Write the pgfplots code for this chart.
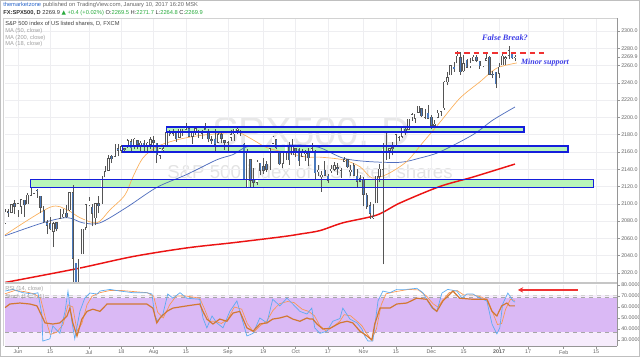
\documentclass[border=0pt]{standalone}
\usepackage{pgfplots}
\pgfplotsset{compat=1.18}
\usepackage{pgfplotstable}
\usepackage{fontspec}
\setmainfont{Liberation Sans}
\newfontfamily\serifbi{Liberation Serif}
\newfontfamily\dejavu{DejaVu Sans}
\usetikzlibrary{arrows.meta}

\definecolor{candleblue}{RGB}{74,122,190}
\definecolor{wick}{RGB}{85,85,85}
\definecolor{boxgreen}{RGB}{185,245,185}
\definecolor{boxblue}{RGB}{20,30,220}
\definecolor{maA}{RGB}{80,110,190}
\definecolor{maB}{RGB}{235,20,20}
\definecolor{maC}{RGB}{250,175,90}
\definecolor{rsibrown}{RGB}{210,120,50}
\definecolor{stochk}{RGB}{90,170,240}
\definecolor{stochd}{RGB}{250,150,80}
\definecolor{bandpurple}{RGB}{218,185,245}
\definecolor{lightpurple}{RGB}{246,236,252}
\definecolor{txtblue}{RGB}{60,60,230}
\definecolor{gridc}{RGB}{238,238,241}
\definecolor{axc}{RGB}{150,150,150}
\definecolor{labc}{RGB}{100,100,100}
\definecolor{upgreen}{RGB}{40,170,60}
\definecolor{tvblue}{RGB}{40,100,200}
\definecolor{resred}{RGB}{240,50,50}

\pgfplotstableread{
i O H L C
-4 2078 2094 2077 2090
-3 2091 2094 2085 2090
-2 2090 2099 2089 2099
-1 2100 2104 2088 2097
0 2093 2100 2085 2100
1 2097 2105 2088 2105
2 2104 2104 2085 2099
3 2100 2113 2100 2110
4 2110 2119 2110 2112
5 2112 2120 2112 2119
6 2116 2117 2107 2115
7 2109 2109 2089 2096
8 2092 2098 2078 2079
9 2078 2081 2065 2075
10 2077 2085 2070 2071
11 2068 2079 2050 2077
12 2078 2079 2068 2071
13 2076 2094 2076 2083
14 2085 2094 2084 2088
15 2089 2099 2084 2085
16 2093 2113 2092 2113
17 2113 2122 1991 2037
18 2031 2032 1991 2001
19 2006 2036 2006 2036
20 2042 2071 2042 2071
21 2073 2099 2070 2099
22 2099 2108 2097 2103
23 2096 2100 2074 2089
24 2084 2100 2075 2100
25 2100 2109 2089 2098
26 2102 2132 2100 2130
27 2131 2144 2131 2137
28 2139 2156 2139 2152
29 2155 2156 2147 2152
30 2155 2169 2155 2163
31 2164 2169 2155 2162
32 2162 2168 2159 2166
33 2164 2164 2159 2163
34 2166 2175 2165 2173
35 2172 2175 2159 2165
36 2166 2176 2163 2175
37 2173 2173 2163 2169
38 2168 2173 2161 2170
39 2170 2174 2159 2167
40 2166 2172 2160 2170
41 2169 2177 2163 2174
42 2173 2178 2161 2171
43 2170 2170 2147 2157
44 2156 2164 2152 2164
45 2163 2168 2159 2164
46 2168 2183 2168 2183
47 2183 2185 2178 2181
48 2182 2187 2179 2182
49 2182 2183 2172 2175
50 2177 2186 2177 2186
51 2184 2186 2179 2184
52 2186 2193 2186 2191
53 2187 2187 2178 2178
54 2178 2182 2169 2182
55 2182 2187 2180 2187
56 2184 2185 2176 2184
57 2182 2185 2175 2182
58 2187 2193 2186 2186
59 2184 2186 2171 2175
60 2174 2179 2169 2173
61 2175 2187 2160 2169
62 2171 2183 2171 2180
63 2180 2183 2170 2176
64 2173 2174 2162 2171
65 2171 2173 2161 2171
66 2177 2185 2173 2180
67 2181 2186 2173 2186
68 2185 2188 2181 2186
69 2183 2185 2178 2182
70 2169 2170 2128 2128
71 2120 2163 2119 2159
72 2151 2151 2120 2127
73 2128 2141 2119 2125
74 2125 2151 2122 2148
75 2147 2147 2133 2139
76 2143 2153 2135 2139
77 2146 2150 2137 2140
78 2144 2165 2139 2164
79 2170 2179 2170 2177
80 2174 2174 2163 2165
81 2159 2159 2145 2146
82 2147 2161 2141 2159
83 2161 2172 2151 2171
84 2168 2172 2145 2151
85 2157 2175 2156 2168
86 2164 2164 2154 2161
87 2163 2165 2144 2150
88 2155 2164 2155 2160
89 2158 2162 2150 2160
90 2161 2165 2144 2153
91 2160 2170 2160 2164
92 2161 2162 2128 2136
93 2137 2145 2132 2139
94 2131 2138 2114 2133
95 2139 2149 2132 2133
96 2132 2135 2124 2127
97 2138 2145 2136 2140
98 2140 2148 2138 2144
99 2142 2147 2133 2141
100 2139 2142 2130 2141
101 2149 2154 2149 2151
102 2151 2152 2141 2143
103 2137 2145 2132 2139
104 2144 2147 2132 2133
105 2132 2140 2120 2126
106 2129 2133 2125 2126
107 2128 2131 2097 2111
108 2110 2112 2094 2097
109 2098 2102 2083 2089
110 2084 2100 2083 2085
111 2101 2132 2101 2132
112 2132 2146 2125 2140
113 2140 2170 2030 2163
114 2167 2182 2151 2167
115 2162 2165 2152 2164
116 2165 2172 2156 2164
117 2168 2180 2166 2180
118 2177 2179 2173 2177
119 2178 2189 2176 2188
120 2186 2190 2180 2182
121 2186 2198 2186 2198
122 2201 2205 2196 2203
123 2199 2204 2194 2204
124 2206 2213 2206 2213
125 2210 2211 2200 2202
126 2200 2210 2198 2205
127 2205 2214 2198 2199
128 2200 2203 2187 2191
129 2191 2197 2188 2192
130 2200 2209 2199 2205
131 2207 2212 2202 2212
132 2211 2242 2209 2241
133 2241 2252 2237 2246
134 2249 2260 2249 2260
135 2258 2264 2253 2256
136 2263 2277 2263 2271
137 2269 2276 2249 2253
138 2254 2272 2253 2262
139 2266 2268 2257 2258
140 2260 2269 2257 2263
141 2266 2272 2266 2270
142 2270 2272 2264 2266
143 2265 2265 2256 2260
144 2260 2264 2258 2264
145 2266 2273 2266 2268
146 2270 2271 2249 2250
147 2250 2254 2245 2249
148 2252 2253 2234 2239
149 2251 2263 2245 2258
150 2261 2273 2261 2271
151 2268 2271 2261 2269
152 2272 2283 2267 2277
153 2273 2275 2268 2269
154 2269.5 2271.7 2264.8 2269.9
}\ohlc

\newcommand\tl{\fontsize{4}{4.5}\selectfont}
\newcommand\hd{\fontsize{4.3}{5}\selectfont}

\begin{document}
\begin{tikzpicture}
\path[use as bounding box] (0,0) rectangle (480pt,267.75pt);
% watermarks
\node[text=gray!18, font=\fontsize{30}{30}\selectfont] at (233.25pt,167.25pt) {SPX500, D};
\node[text=gray!22, font=\fontsize{14}{14}\selectfont] at (232.5pt,138.75pt) {S\&P 500 index of US listed shares};

\begin{axis}[
  at={(3.75pt,55.5pt)}, anchor=south west, scale only axis,
  width=459pt, height=198.75pt,
  xmin=-4, xmax=185.5, ymin=2008.4, ymax=2315,
  axis x line*=bottom, axis y line*=right,
  axis line style={draw=axc, line width=0.6pt},
  xtick={0,10,22,32,42,52,65,76,86,96,107,117,128,138,149,158,169,179},
  xticklabels={}, xtick style={draw=none},
  ytick={2020,2040,...,2300},
  extra y ticks={2269.9}, extra y tick style={grid=none},
  ytick style={draw=axc, line width=0.4pt}, tick align=outside, major tick length=2pt,
  yticklabel={\pgfmathprintnumber[fixed,fixed zerofill,precision=1,1000 sep={},assume math mode=true]{\tick}},
  yticklabel style={font=\tl, text=labc, inner sep=1pt},
  grid=major, grid style={draw=gridc, line width=0.4pt},
]
% box fills
\fill[boxgreen] (axis cs:46.1,2183) rectangle (axis cs:156.7,2189);
\fill[boxgreen] (axis cs:32.5,2160) rectangle (axis cs:170.3,2167);
\fill[boxgreen] (axis cs:4.0,2119) rectangle (axis cs:178.3,2128);
% MAs
\addplot[maB, line width=1.1pt, smooth] coordinates {(-4,2009) (18.3,2025) (35.6,2039) (52.3,2049) (66.6,2055) (82,2062) (87.3,2065) (93.5,2069) (100.6,2078) (111.1,2087) (118.3,2101) (130.6,2120) (140.9,2131) (153.9,2146)};
\addplot[maA, line width=0.55pt, smooth] coordinates {(-4,2063) (7.7,2078) (15.2,2084) (20.1,2078) (25.4,2078) (33.7,2096) (43.0,2119) (52.3,2134) (61.6,2151) (66.6,2157) (70.9,2166) (77.1,2167) (87.3,2168) (93.5,2165) (100.6,2153) (108.1,2149) (118.3,2148) (124.5,2153) (130.6,2160) (140.9,2180) (147.1,2197) (153.9,2212)};
\addplot[maC, line width=0.5pt, smooth] coordinates {(-4,2064) (9.9,2096) (15.2,2093) (19.2,2084) (24.5,2078) (28.5,2093) (33.1,2110) (35.6,2131) (38.7,2153) (43.0,2166) (49.2,2174) (56.3,2179) (64.7,2182) (68.7,2182) (72.8,2174) (77.1,2165) (83.3,2159) (89.5,2154) (93.5,2154) (100.6,2151) (105.9,2143) (109.6,2130) (114.2,2134) (120.4,2149) (125.4,2171) (130.6,2194) (136.8,2222) (143.0,2241) (148.3,2257) (154.5,2263)};
% wicks
\addplot[draw=none, error bars/.cd, y dir=plus, y explicit, error mark=none,
  error bar style={draw=wick, line width=0.45pt}]
  table[x=i, y=L, y error plus expr=\thisrow{H}-\thisrow{L}] {\ohlc};
% body outlines
\addplot[draw=none, error bars/.cd, y dir=plus, y explicit, error mark=none,
  error bar style={draw=wick, line width=1.8pt}]
  table[x=i, y expr={min(\thisrow{O},\thisrow{C})-0.45}, y error plus expr={abs(\thisrow{C}-\thisrow{O})+0.9}] {\ohlc};
% bullish fills
\addplot[draw=none, error bars/.cd, y dir=plus, y explicit, error mark=none,
  error bar style={draw=white, line width=0.9pt}]
  table[x=i, y expr={min(\thisrow{O},\thisrow{C})}, y error plus expr={max(\thisrow{C}-\thisrow{O},0)}] {\ohlc};
% bearish fills
\addplot[draw=none, error bars/.cd, y dir=plus, y explicit, error mark=none,
  error bar style={draw=candleblue, line width=0.9pt}]
  table[x=i, y expr={min(\thisrow{O},\thisrow{C})}, y error plus expr={max(\thisrow{O}-\thisrow{C},0)}] {\ohlc};
% box borders
\draw[boxblue, line width=0.9pt] (axis cs:46.1,2183) rectangle (axis cs:156.7,2189);
\draw[boxblue, line width=0.9pt] (axis cs:32.5,2160) rectangle (axis cs:170.3,2167);
\draw[boxblue, line width=0.9pt] (axis cs:4.0,2119) rectangle (axis cs:178.3,2128);
% resistance
\draw[draw=resred, line width=1.5pt, dash pattern=on 4pt off 3pt] (axis cs:135.3,2274) -- (axis cs:163.8,2274);
\node[text=txtblue, font=\serifbi\bfseries\itshape\fontsize{6.2}{7}\selectfont] at (axis cs:150.8,2292) {False Break?};
\node[text=txtblue, font=\serifbi\bfseries\itshape\fontsize{6}{7}\selectfont] at (axis cs:163.2,2264) {Minor support};
\end{axis}

\begin{axis}[
  at={(3.75pt,8.25pt)}, anchor=south west, scale only axis,
  width=459pt, height=45.75pt,
  xmin=-4, xmax=185.5, ymin=24.5, ymax=80,
  axis x line*=bottom, axis y line*=right,
  axis line style={draw=axc, line width=0.6pt},
  xtick={0,10,22,32,42,52,65,76,86,96,107,117,128,138,149,158,169,179},
  xticklabels={Jun,15,Jul,18,Aug,15,Sep,19,Oct,17,Nov,15,Dec,15,\textbf{2017},17,Feb,15},
  ytick={30,40,...,80},
  tick style={draw=axc, line width=0.4pt}, tick align=outside, major tick length=2pt,
  yticklabel={\pgfmathprintnumber[fixed,fixed zerofill,precision=4,assume math mode=true]{\tick}},
  yticklabel style={font=\tl, text=labc, inner sep=1pt},
  xticklabel style={font=\tl, text=labc, inner sep=1pt},
  xmajorgrids, grid style={draw=gridc, line width=0.4pt},
]
\fill[lightpurple] (axis cs:-4,24.5) rectangle (axis cs:185.5,71);
\fill[bandpurple] (axis cs:-4,37.3) rectangle (axis cs:185.5,68.5);
\draw[gray!70, dashed, line width=0.4pt] (axis cs:-4,68.5) -- (axis cs:185.5,68.5);
\draw[gray!70, dashed, line width=0.4pt] (axis cs:-4,37.3) -- (axis cs:185.5,37.3);
\draw[gray!35, dashed, line width=0.3pt] (axis cs:-4,71) -- (axis cs:185.5,71);
\addplot[stochd, line width=0.5pt] coordinates {(-4,72) (-1,75) (2,74) (5,72) (7,68) (8.5,50) (10,35) (12,37) (14,44) (15.5,62) (17,60) (18.3,38) (19.8,45) (21.4,62) (23,70) (25.4,73) (28.5,75) (32,75) (36,74) (40,73) (42,70) (43.3,55) (45,50) (47,62) (49,70) (52,70) (56.3,68) (57.8,58) (59.3,47) (61,47) (63,45) (65,49) (67,60) (69.3,58) (71,45) (73,37) (75,43) (77,47) (79,57) (81,63) (83.5,65) (85.5,64) (88,58) (90,56) (91.8,52) (93.5,43) (95.5,38) (97.5,42) (99.7,47) (101,53) (103,52) (105,47) (106.5,43) (108,36) (109.5,30) (111,40) (112.5,62) (114,72) (117,74) (121,76) (124,75.5) (126.5,70) (128.5,63) (130,60) (131.5,66) (133.5,73) (136,75) (138,71) (141,71) (143.5,69) (145.5,66) (147,55) (148.5,44) (149.8,45) (151,58) (152.5,67) (153.9,66)};
\addplot[stochk, line width=0.5pt] coordinates {(-4,74.5) (-1.5,76) (1.5,73) (4.6,71.8) (6.2,73) (7.4,53.6) (7.7,29) (9.9,31) (10.8,42.7) (13.0,36) (14.6,56) (15.5,74.5) (16.7,47) (17.6,31) (19.2,56) (20.7,68) (22.3,72.7) (24.5,71.8) (25.4,74.5) (28.5,76) (31.6,74.5) (35.6,73) (39.9,73) (41.5,71.8) (42.4,51.8) (43.3,47) (44.9,53.6) (46.4,71.8) (48.0,68) (50.2,73) (52.3,68) (56.3,67) (57.3,50) (58.5,41) (60.1,51.8) (61.6,45.5) (63.5,41) (65.6,56) (67.8,65.5) (69.3,50) (70.9,33.6) (72.8,36) (74.9,50) (77.1,45.5) (78.9,67) (81.1,61) (83.3,68) (85.1,62.7) (87.3,56) (89.5,53.6) (91.0,59) (91.9,41) (93.5,36) (95.7,38) (97.5,47) (99.7,49.5) (100.6,59) (102.8,49) (105.0,45.5) (106.5,40) (107.4,33.6) (108.4,29) (109.9,29) (111.5,65.5) (113.0,74.5) (115.2,73) (117.3,76) (120.4,76) (123.5,77) (125.4,73) (128.2,59) (129.7,56) (131.3,72.7) (133.1,76) (135.9,74.5) (137.5,68) (139.0,71.8) (140.9,71.8) (143.0,68) (145.2,65.5) (146.8,44.5) (148.3,35.5) (149.2,41) (150.1,62.7) (151.7,72.7) (153.3,65.5) (153.9,64.5)};
\addplot[rsibrown, line width=0.9pt] coordinates {(-4,59.4) (-2.5,62.7) (0.6,63.6) (3.7,62.7) (5.9,61) (7.4,51.8) (8.4,45.5) (10.8,44.5) (13.0,45.5) (15.2,51.8) (16.1,59) (17.0,45.5) (18.3,33.6) (19.8,49) (21.4,56) (23.2,58) (25.4,56) (27.6,62.7) (31.6,62.7) (35.6,62.7) (39.9,62.7) (41.8,59) (43.0,45.5) (44.0,50) (46.1,56) (48.0,59) (52.3,61) (56.3,62.7) (57.3,56) (58.5,49) (60.4,44.5) (62.5,49) (64.7,47) (66.6,54.5) (68.7,56) (70.9,41) (72.8,38) (74.9,44.5) (77.1,45.5) (78.9,49) (81.1,50) (83.3,51.8) (85.1,49) (87.3,47) (89.5,50) (90.4,49) (91.3,49) (92.6,44.5) (94.4,40) (96.6,40.5) (99.7,45.5) (101.9,47) (103.7,45.5) (105.9,38) (108.1,33.6) (109.6,30) (110.5,44.5) (112.1,59) (115.2,59) (117.3,62.7) (120.4,63.6) (123.5,68) (126.6,67) (128.5,59) (129.7,56) (131.6,65.5) (134.7,74.5) (136.8,68) (140.9,67) (145.2,67) (146.8,56) (148.3,51.8) (149.8,61) (151.4,63.6) (152.3,61) (153.9,61)};
\draw[draw=resred, line width=1pt, -{Stealth[length=4pt,width=4pt]}] (axis cs:173.4,75.5) -- (axis cs:154.8,75.5);
\end{axis}

% separator between panes and right price-scale line
\fill[gray!45] (3.75pt,54.75pt) rectangle (462.75pt,56.25pt);
\draw[axc, line width=0.6pt] (462.75pt,8.25pt) -- (462.75pt,254.25pt);
\draw[gray!35, line width=0.4pt] (2.25pt,254.25pt) -- (462.75pt,254.25pt);
\draw[gray!35, line width=0.4pt] (2.25pt,254.25pt) -- (2.25pt,8.25pt);

% header
\node[anchor=west, inner sep=0pt, font=\hd, text=labc] at (2.25pt,264pt) {{\color{tvblue}themarketzone} published on TradingView.com, January 10, 2017 16:20 MSK};
\node[anchor=west, inner sep=0pt, font=\hd, text=black!80] at (2.25pt,258pt) {\textbf{FX:SPX500, D} 2269.9 {\color{upgreen}\dejavu ▲} {\color{upgreen}+0.4 (+0.02\%)} O:{\color{upgreen}2269.5} H:{\color{upgreen}2271.7} L:{\color{upgreen}2264.8} C:{\color{upgreen}2269.9}};
\node[anchor=west, inner sep=0pt, font=\hd, text=black!75] at (3.75pt,249.75pt) {S\&P 500 index of US listed shares, D, FXCM};
\node[anchor=west, inner sep=0pt, font=\hd, text=gray!75] at (3.75pt,244.5pt) {MA (50, close)};
\node[anchor=west, inner sep=0pt, font=\hd, text=gray!75] at (3.75pt,239.6pt) {MA (200, close)};
\node[anchor=west, inner sep=0pt, font=\hd, text=gray!75] at (3.75pt,234.75pt) {MA (18, close)};
\node[anchor=west, inner sep=0pt, font=\hd, text=gray!75] at (3.75pt,51pt) {RSI (14, close)};
\node[anchor=west, inner sep=0pt, font=\hd, text=gray!75] at (3.75pt,45pt) {Stoch (14, 3, 1)};
\draw[gray!50, line width=0.4pt] (0.2pt,0.2pt) rectangle (479.8pt,267.55pt);
\end{tikzpicture}
\end{document}
